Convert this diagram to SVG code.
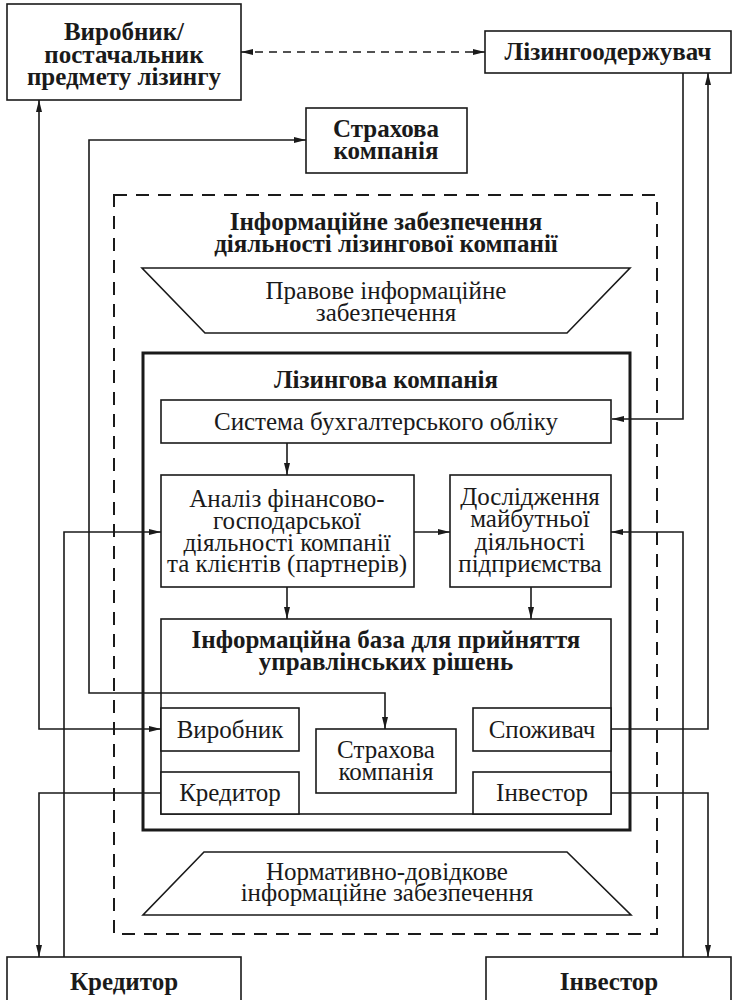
<svg xmlns="http://www.w3.org/2000/svg" width="733" height="1000" viewBox="0 0 733 1000">
<style>
.b{fill:#fff;stroke:#1a1a1a;stroke-width:1.6}
.thick{fill:none;stroke:#1a1a1a;stroke-width:3}
.dash{fill:none;stroke:#1a1a1a;stroke-width:2;stroke-dasharray:13 9}
.c{fill:none;stroke:#1a1a1a;stroke-width:1.6}
.cd{fill:none;stroke:#1a1a1a;stroke-width:1.6;stroke-dasharray:8 6}
text{font-family:"Liberation Serif","Times New Roman",serif;fill:#1a1a1a;text-anchor:middle}
.t{font-size:25px}
.tb{font-size:25px;font-weight:bold}
</style>
<defs>
<marker id="ah" viewBox="0 0 12 6" refX="12" refY="3" markerWidth="12" markerHeight="6" orient="auto-start-reverse" markerUnits="userSpaceOnUse"><path d="M0,0 L12,3 L0,6 z" fill="#1a1a1a"/></marker>
</defs>

<g id="outer-dashed"><rect class="dash" x="114" y="195" width="543" height="739"/></g>

<g id="vyrobnyk-top"><rect class="b" x="7" y="4" width="234" height="96"/>
<text class="tb" x="124" y="40">Виробник/</text><text class="tb" x="124" y="63">постачальник</text><text class="tb" x="124" y="85">предмету лізингу</text></g>

<g id="lizyngoderzhuvach"><rect class="b" x="485" y="31" width="246" height="42"/>
<text class="tb" x="608" y="60">Лізингоодержувач</text></g>

<g id="strakhova-top"><rect class="b" x="306" y="108" width="161" height="65"/>
<text class="tb" x="386" y="137">Страхова</text><text class="tb" x="386" y="159">компанія</text></g>

<g id="title"><text class="tb" x="386" y="230">Інформаційне забезпечення</text><text class="tb" x="386" y="252">діяльності лізингової компанії</text></g>

<g id="pravove"><polygon class="b" points="142,268 630,268 567,333 205,333"/>
<text class="t" x="386" y="299">Правове інформаційне</text><text class="t" x="386" y="321">забезпечення</text></g>

<g id="lizyngova"><rect class="thick" x="143" y="353" width="487" height="477"/>
<text class="tb" x="386" y="388">Лізингова компанія</text></g>

<g id="systema"><rect class="b" x="161" y="400" width="450" height="43"/>
<text class="t" x="386" y="430">Система бухгалтерського обліку</text></g>

<g id="analiz"><rect class="b" x="161" y="475" width="253" height="112"/>
<text class="t" x="287" y="507">Аналіз фінансово-</text><text class="t" x="287" y="529">господарської</text><text class="t" x="287" y="551">діяльності компанії</text><text class="t" x="287" y="572">та клієнтів (партнерів)</text></g>

<g id="doslidzhennia"><rect class="b" x="450" y="475" width="161" height="112"/>
<text class="t" x="530" y="505">Дослідження</text><text class="t" x="530" y="527">майбутньої</text><text class="t" x="530" y="550">діяльності</text><text class="t" x="530" y="572">підприємства</text></g>

<g id="baza"><rect class="b" x="161" y="619" width="450" height="195"/>
<text class="tb" x="386" y="648">Інформаційна база для прийняття</text><text class="tb" x="386" y="670">управлінських рішень</text></g>

<g id="vyrobnyk-in"><rect class="b" x="161" y="708" width="138" height="43"/><text class="t" x="230" y="738">Виробник</text></g>
<g id="kredytor-in"><rect class="b" x="161" y="772" width="138" height="42"/><text class="t" x="230" y="801">Кредитор</text></g>
<g id="strakhova-in"><rect class="b" x="316" y="729" width="140" height="64"/><text class="t" x="386" y="758">Страхова</text><text class="t" x="386" y="780">компанія</text></g>
<g id="spozhyvach"><rect class="b" x="473" y="708" width="138" height="43"/><text class="t" x="542" y="738">Споживач</text></g>
<g id="investor-in"><rect class="b" x="473" y="772" width="138" height="42"/><text class="t" x="542" y="801">Інвестор</text></g>

<g id="normatyvno"><polygon class="b" points="204,852 567,852 631,915 143,915"/>
<text class="t" x="387" y="880">Нормативно-довідкове</text><text class="t" x="387" y="901">інформаційне забезпечення</text></g>

<g id="kredytor-bottom"><rect class="b" x="7" y="957" width="234" height="50"/><text class="tb" x="124" y="990">Кредитор</text></g>
<g id="investor-bottom"><rect class="b" x="486" y="957" width="245" height="50"/><text class="tb" x="609" y="990">Інвестор</text></g>

<g id="connectors">
<path class="cd" d="M241,52 H485" marker-start="url(#ah)" marker-end="url(#ah)"/>
<path class="c" d="M683,73 V419 H612" marker-end="url(#ah)"/>
<path class="c" d="M611,729 H708 V73" marker-end="url(#ah)"/>
<path class="c" d="M306,140 H89 V693 H385 V729" marker-start="url(#ah)" marker-end="url(#ah)"/>
<path class="c" d="M39,100 V729 H161" marker-start="url(#ah)" marker-end="url(#ah)"/>
<path class="c" d="M161,793 H39 V957" marker-end="url(#ah)"/>
<path class="c" d="M64,957 V532 H161" marker-end="url(#ah)"/>
<path class="c" d="M611,793 H708 V957" marker-end="url(#ah)"/>
<path class="c" d="M683,957 V532 H611" marker-end="url(#ah)"/>
<path class="c" d="M287,443 V475" marker-end="url(#ah)"/>
<path class="c" d="M414,532 H450" marker-end="url(#ah)"/>
<path class="c" d="M287,587 V619" marker-end="url(#ah)"/>
<path class="c" d="M531,587 V619" marker-end="url(#ah)"/>
</g>
</svg>
